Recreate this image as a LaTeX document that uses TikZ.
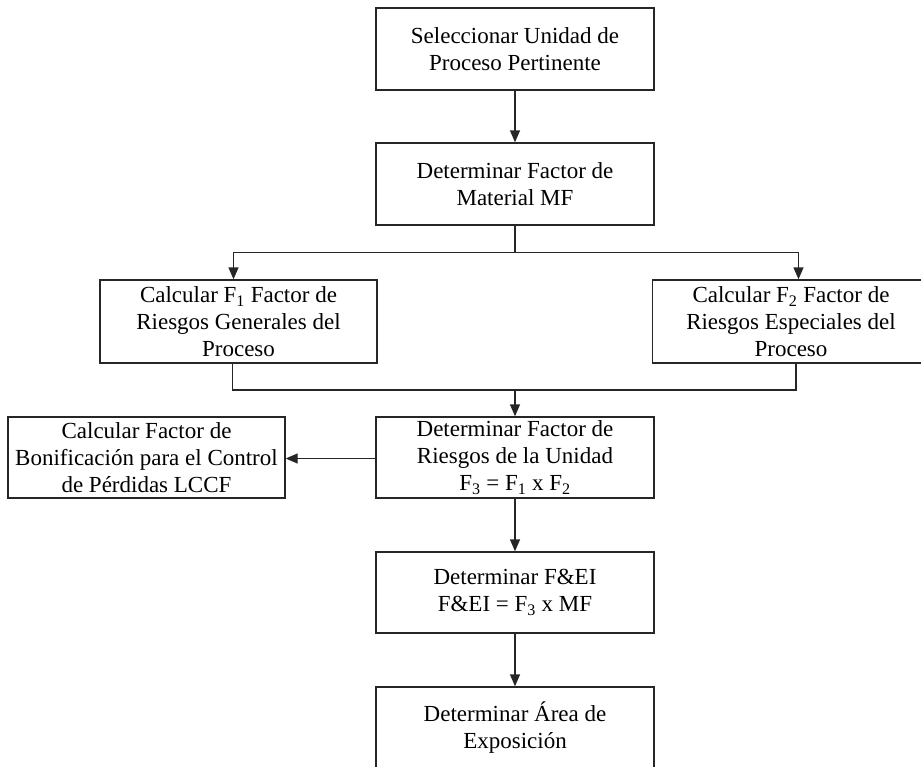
\documentclass[tikz,border=0pt]{standalone}
\usepackage{fontspec}
\setmainfont{Liberation Serif}
\usetikzlibrary{arrows.meta, positioning, calc}

\begin{document}
\begin{tikzpicture}[x=1pt, y=-1pt,
    paso/.style={draw=black!85, line width=1.4pt, minimum width=278pt, minimum height=82pt,
      inner sep=0pt, align=center, font=\fontsize{23}{27}\selectfont},
    flecha/.style={-{Triangle[length=12pt, width=10pt]}, line width=1.4pt, draw=black!85},
    linea/.style={line width=1.4pt, draw=black!85}]
  \useasboundingbox (0,0) rectangle (921,766);

  % Main column
  \node[paso] (sel) at (515, 49) {Seleccionar Unidad de\\Proceso Pertinente};
  \node[paso] (mat) at (515, 184) {Determinar Factor de\\Material MF};

  % The two risk factors
  \node[paso, minimum width=277pt, minimum height=83pt] (gen) at (238.5, 321.5) {Calcular F\textsubscript{1} Factor de\\Riesgos Generales del\\Proceso};
  \node[paso, minimum width=277pt, minimum height=83pt] (esp) at (791, 321.5) {Calcular F\textsubscript{2} Factor de\\Riesgos Especiales del\\Proceso};

  % Unit factor and LCCF
  \node[paso, minimum height=81pt] (uni) at (515, 457.5) {Determinar Factor de\\Riesgos de la Unidad\\F\textsubscript{3} = F\textsubscript{1} x F\textsubscript{2}};
  \node[paso, minimum width=277pt, minimum height=81pt] (lccf) at (146.5, 457.5) {Calcular Factor de\\Bonificación para el Control\\de Pérdidas LCCF};

  % Index and area
  \node[paso, minimum height=81pt] (fei) at (515, 592.5) {Determinar F\&EI\\F\&EI = F\textsubscript{3} x MF};
  \node[paso] (area) at (515, 728) {Determinar Área de\\Exposición};

  % Connectors
  \coordinate (rama) at (515, 252.5);
  \coordinate (union) at (515, 390);
  \draw[flecha] (sel) -- (mat);
  \draw[linea] (mat.south) -- (rama);
  \draw[flecha] (rama) -| ([xshift=-5pt]gen.north);
  \draw[flecha] (rama) -| ([xshift=7.5pt]esp.north);
  \draw[linea] ([xshift=-6pt]gen.south) |- (union);
  \draw[linea] ([xshift=5pt]esp.south) |- (union);
  \draw[flecha] (union) -- (uni.north);
  \draw[flecha] (uni.west |- 0,458.5) -- (lccf.east |- 0,458.5);
  \draw[flecha] (uni) -- (fei);
  \draw[flecha] (fei) -- (area);
\end{tikzpicture}
\end{document}
